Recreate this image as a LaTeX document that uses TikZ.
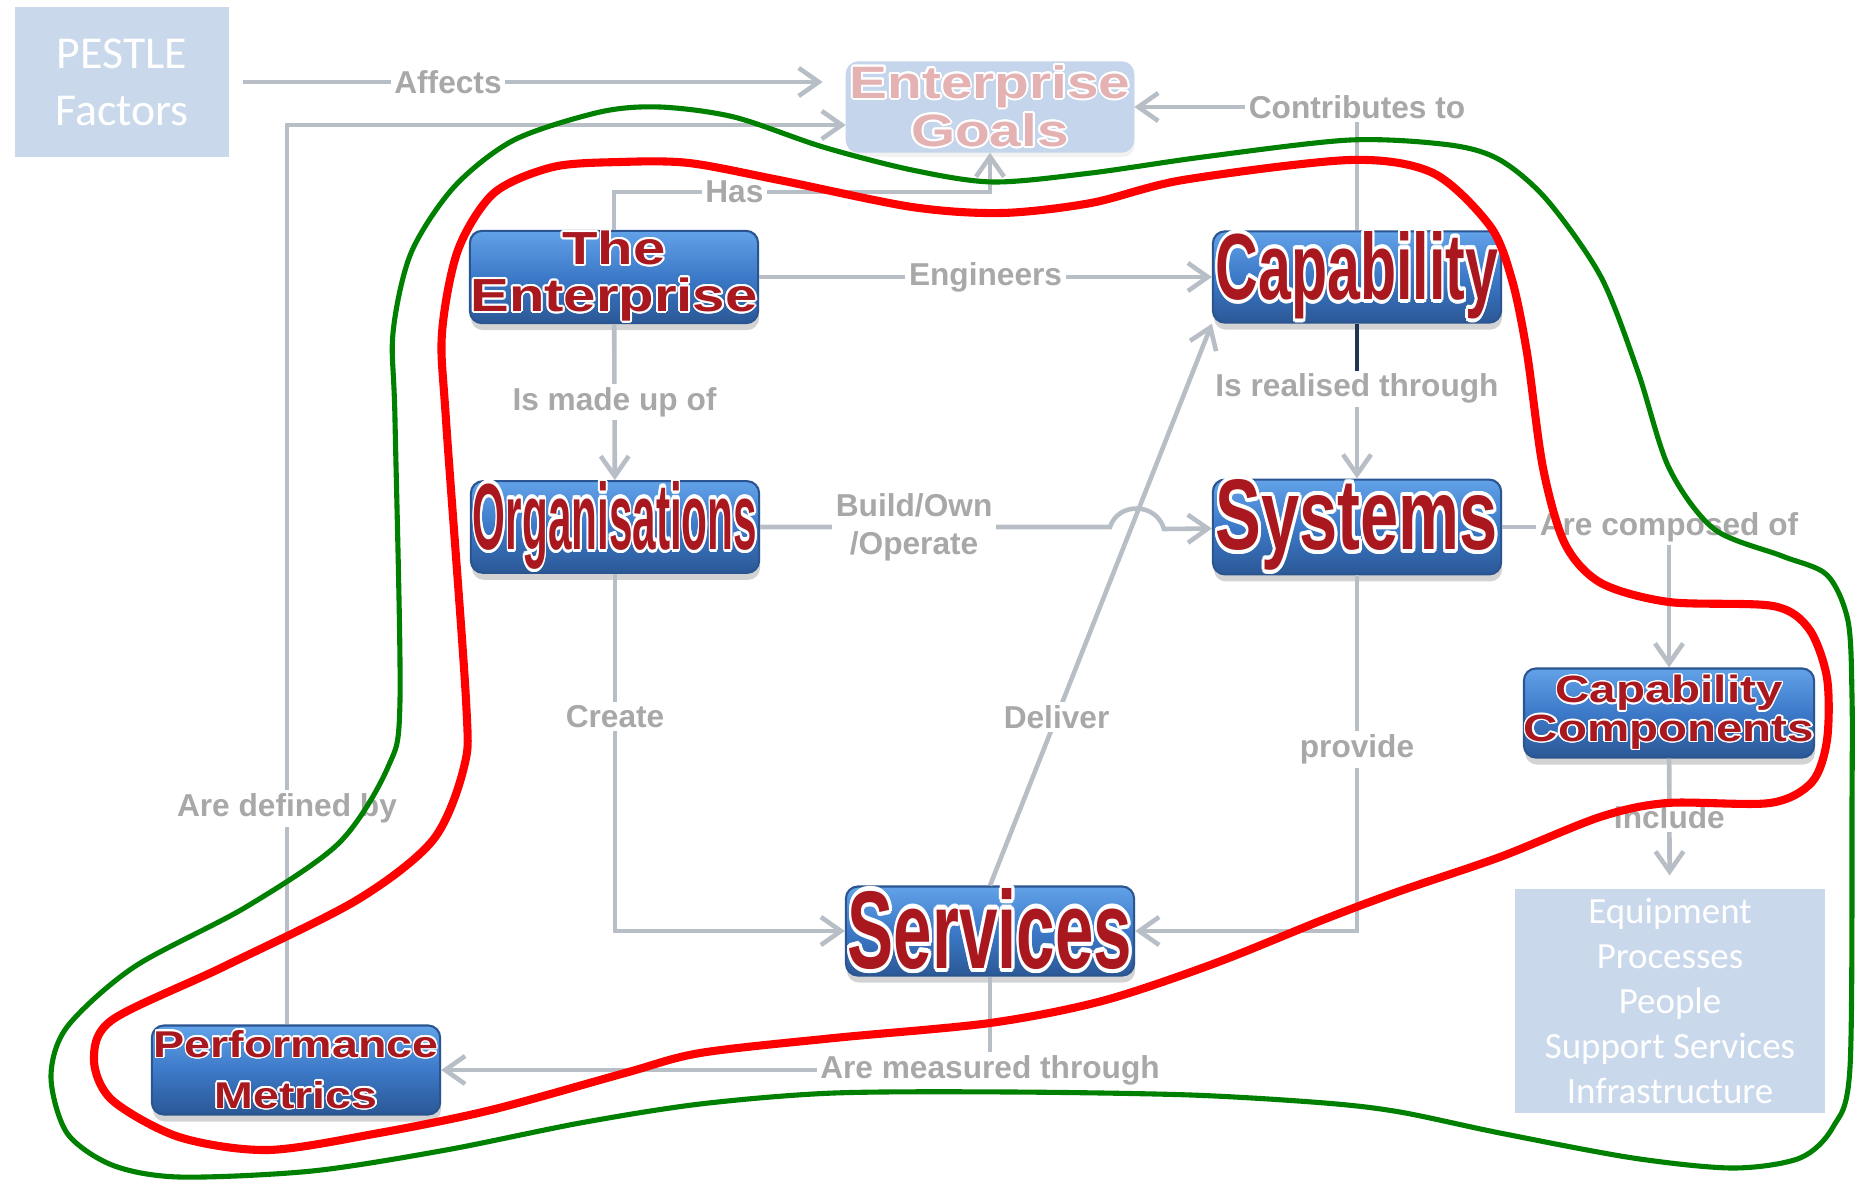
\documentclass[tikz,border=0pt]{standalone}
\usepackage{fontspec}
\usepackage{contour}
\usetikzlibrary{positioning,
        arrows.meta,
        shadows}
\setmainfont{Liberation Sans}
\newfontfamily\widefont{Liberation Sans}[FakeStretch=1.25]
\newfontfamily\calfont{Carlito}
\definecolor{conngray}{HTML}{B8BEC6}
\definecolor{lblgray}{HTML}{A8A8A8}
\definecolor{boxtop}{HTML}{62A2E8}
\definecolor{boxmid}{HTML}{3C79C8}
\definecolor{boxbot}{HTML}{2B5896}
\definecolor{boxedge}{HTML}{2A5590}
\definecolor{txtred}{HTML}{A8181E}
\definecolor{paleblue}{HTML}{C9D8EB}
\definecolor{fadebox}{HTML}{C4D5EC}
\definecolor{fadetxt}{HTML}{E4B2B2}
\definecolor{capnavy}{HTML}{1E3654}
\definecolor{loopgreen}{HTML}{008000}
\definecolor{loopred}{HTML}{FF0000}
\contourlength{0.04em}
\newcommand{\outl}[1]{\contour{white}{#1}}
\newcommand{\fitword}[3]{\resizebox{#1}{#2}{\contour{white}{#3}}}

\begin{document}
\begin{tikzpicture}[x=0.01cm, y=-0.01cm,
        blk/.style={rectangle, rounded corners=0.12cm, draw=boxedge, line width=0.6pt,
            top color=boxtop, bottom color=boxbot, middle color=boxmid,
            minimum width=2.88cm, minimum height=0.89cm, inner sep=0pt,
            text=txtred, align=center, font=\bfseries,
            drop shadow={shadow xshift=0.01cm, shadow yshift=-0.07cm, opacity=0.35}},
        softbox/.style={rectangle, fill=paleblue, draw=white, line width=4pt,
            text=white, align=center, inner sep=0pt,
            drop shadow={shadow xshift=0.02cm, shadow yshift=-0.03cm, opacity=0.12}},
        goalbox/.style={rectangle, rounded corners=0.12cm, fill=fadebox, draw=fadebox,
            minimum width=2.87cm, minimum height=0.9cm, inner sep=0pt,
            text=fadetxt, align=center,
            font=\widefont\bfseries\fontsize{12.9}{13.7}\selectfont,
            drop shadow={shadow xshift=0.01cm, shadow yshift=-0.05cm, opacity=0.1}},
        conn/.style={draw=conngray, line width=1.3pt,
            -{Straight Barb[length=2mm, width=2.8mm]}},
        lbl/.style={fill=white, text=lblgray, inner sep=1pt,
            font=\bfseries\fontsize{9}{10.8}\selectfont}]

    \useasboundingbox (0,0) rectangle (1858,1182);

    % boxes
    \node [softbox, minimum width=2.28cm, minimum height=1.63cm,
        font=\calfont\fontsize{13}{16.2}\selectfont] (pestle) at (122,82) {PESTLE\\Factors};
    \node [goalbox] (goals) at (990,107) {\outl{Enterprise}\\\outl{Goals}};
    \node [blk, font=\widefont\bfseries\fontsize{13.2}{13.4}\selectfont] (ent) at (614,277) {\outl{The}\\\outl{Enterprise}};
    \node [blk] (cap) at (1357,277) {\fitword{2.82cm}{0.68cm}{Capability}};
    \node [blk] (org) at (615,527) {\fitword{2.84cm}{0.68cm}{Organisations}};
    \node [blk] (sys) at (1357,527) {\fitword{2.82cm}{0.7cm}{Systems}};
    \node [blk, font=\widefont\bfseries\fontsize{10.8}{11}\selectfont] (capcomp) at (1669,713) {\outl{Capability}\\\outl{Components}};
    \node [softbox, minimum width=3.23cm, minimum height=2.37cm,
        font=\calfont\fontsize{10.5}{12.8}\selectfont] (equip) at (1670,1001)
        {Equipment\\Processes\\People\\Support Services\\Infrastructure};
    \node [blk] (serv) at (990,931) {\fitword{2.84cm}{0.80cm}{Services}};
    \node [blk, font=\widefont\bfseries\fontsize{10.6}{14.5}\selectfont] (perf) at (296,1070) {\outl{Performance}\\\outl{Metrics}};

    % links
    \draw [conn, shorten >=0.23cm] (pestle) -- node[lbl, pos=0.34]{Affects} (pestle -| goals.west);
    \draw [conn] ([xshift=-0.09cm]perf.north) |- node[lbl, pos=0.12]{Are defined by} ([yshift=-0.18cm]goals.west);
    \draw [conn] (ent) |- node[lbl, pos=0.66]{Has} (goals.south |- 0,192) -- (goals.south);
    \draw [conn] (cap) |- node[lbl]{Contributes to} (goals);
    \draw [conn] (ent) -- node[lbl]{Engineers} (cap);
    \draw [conn] (ent) -- node[lbl]{Is made up of} (org);
    \draw [conn] (cap) -- node[lbl, pos=0.42]{Is realised through} (sys);
    \draw [capnavy, line width=1.3pt] (cap.south) -- ([yshift=-0.47cm]cap.south);
    \coordinate (hopL) at (1110,527);
    \coordinate (hopR) at (1164,529);
    \draw [conn] (org) -- node[lbl, align=center, pos=0.44]{Build/Own\\/Operate} (hopL)
        .. controls (1118,502) and (1156,502) .. (hopR) -- (sys);
    \draw [conn] (serv.north) -- node[lbl, pos=0.3]{Deliver} (cap.south west);
    \draw [conn] (sys) -| node[lbl]{Are composed of} (capcomp);
    \draw [conn] (capcomp) -- node[lbl]{Include} (equip);
    \draw [conn] (org) |- node[lbl, pos=0.2]{Create} (serv);
    \draw [conn] (sys) |- node[lbl, pos=0.245]{provide} (serv);
    \draw [conn] (serv) |- node[lbl]{Are measured through} (perf);

    % outer loop
    \draw [loopgreen, line width=1.45pt] plot[smooth cycle] coordinates {
        (395,420) (393,333) (411,253) (454,187) (514,140) (600,112) (660,107)
        (734,117) (823,147) (912,170) (993,182) (1091,173) (1203,157) (1350,140)
        (1450,145) (1500,160) (1547,200) (1601,277) (1638,372) (1669,468)
        (1714,529) (1782,556) (1827,575) (1848,621) (1852,697) (1852,800)
        (1850,1067) (1833,1127) (1800,1158) (1733,1168) (1633,1158) (1500,1133)
        (1400,1112) (1325,1103) (1191,1095) (1012,1092) (834,1093) (700,1104)
        (580,1123) (446,1150) (312,1171) (179,1177) (112,1165) (67,1133)
        (51,1077) (67,1027) (134,967) (246,907) (339,843) (388,767) (400,700)};
    % inner loop
    \draw [loopred, line width=2.3pt] plot[smooth cycle] coordinates {
        (446,420) (442,333) (458,250) (494,193) (553,167) (620,162) (689,163)
        (779,180) (912,207) (1002,213) (1091,203) (1183,180) (1350,160)
        (1433,173) (1490,226) (1512,280) (1527,353) (1543,468) (1565,544)
        (1601,583) (1669,602) (1773,606) (1809,629) (1827,678) (1827,740)
        (1812,782) (1770,803) (1667,803) (1600,817) (1500,857) (1400,891)
        (1325,919) (1213,964) (1102,1001) (990,1023) (834,1038) (700,1053)
        (625,1073) (491,1110) (379,1133) (268,1150) (179,1137) (112,1100)
        (94,1060) (112,1020) (223,967) (357,900) (433,840) (464,767) (466,700)};
\end{tikzpicture}
\end{document}
